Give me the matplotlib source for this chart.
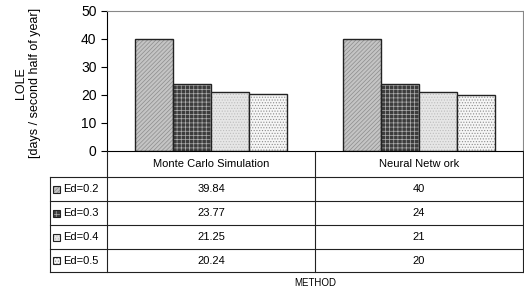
import numpy as np
import matplotlib
matplotlib.use("Agg")
import matplotlib.pyplot as plt
from matplotlib.patches import Rectangle

plt.rcParams['font.family'] = ['Liberation Sans', 'DejaVu Sans']
plt.rcParams['hatch.linewidth'] = 0.5

# data
methods = ["Monte Carlo Simulation", "Neural Netw ork"]
series = ["Ed=0.2", "Ed=0.3", "Ed=0.4", "Ed=0.5"]
lole_mc = [39.84, 23.77, 21.25, 20.24]
lole_nn = [40, 24, 21, 20]
table_txt = [["39.84", "40"], ["23.77", "24"], ["21.25", "21"], ["20.24", "20"]]

# bar styles
faces = ["#c4c4c4", "#3c3c3c", "#e6e6e6", "#f6f6f6"]
hatches = ["////////", "++++", "......", "......"]
hcolors = ["#8c8c8c", "#b0b0b0", "#bdbdbd", "#8c8c8c"]

W, H = 524, 292
fig = plt.figure(figsize=(W / 100, H / 100), dpi=100)

# plot area in pixels: x 107..523, y 11..151
ax = fig.add_axes([107 / W, (H - 151) / H, (523 - 107) / W, (151 - 11) / H])
values = np.array([lole_mc, lole_nn])
x = np.arange(len(methods)) + 0.5
bw = 0.183
for i in range(len(series)):
    ax.bar(x + (i - 1.5) * bw, values[:, i], width=bw, facecolor=faces[i],
           edgecolor=hcolors[i], hatch=hatches[i], linewidth=0)
    ax.bar(x + (i - 1.5) * bw, values[:, i], width=bw, facecolor="none",
           edgecolor="#222222", linewidth=1.0)
ax.set_xlim(0, len(methods))
ax.set_ylim(0, 50)
ax.set_yticks(range(0, 51, 10))
ax.set_xticks([])
ax.tick_params(axis="y", labelsize=10, length=4, width=0.8, direction="out")
ax.spines["left"].set_color("black")
ax.spines["bottom"].set_color("black")
ax.spines["top"].set_color("#888888")
ax.spines["right"].set_color("#888888")

fig.text(21 / W, 1 - 83 / H, "LOLE", rotation=90, ha="center", va="center", fontsize=9)
fig.text(35 / W, 1 - 83 / H, "[days / second half of year]", rotation=90,
         ha="center", va="center", fontsize=9)

# table drawn in pixel coordinates
tx = fig.add_axes([0, 0, 1, 1])
tx.set_xlim(0, W)
tx.set_ylim(H, 0)
tx.axis("off")
lc = "#222222"
rows_y = [151, 177, 201, 225, 249, 272]
col_x = [107, 315, 523]
for yy in rows_y[1:]:
    tx.plot([50 if yy > 177 else 107, 523], [yy, yy], color=lc, lw=0.8)
tx.plot([50, 107], [177, 177], color=lc, lw=0.8)
tx.plot([50, 50], [177, 272], color=lc, lw=0.8)
for xx in col_x:
    tx.plot([xx, xx], [151, 272], color=lc, lw=0.8)

for j, m in enumerate(methods):
    tx.text((col_x[j] + col_x[j + 1]) / 2, 164, m, ha="center", va="center", fontsize=8)
for i, s in enumerate(series):
    yc = (rows_y[i + 1] + rows_y[i + 2]) / 2
    tx.add_patch(Rectangle((53, yc - 3.5), 7, 7, facecolor=faces[i], edgecolor=hcolors[i],
                           hatch=hatches[i], lw=0))
    tx.add_patch(Rectangle((53, yc - 3.5), 7, 7, facecolor="none", edgecolor="#222222", lw=0.8))
    tx.text(63, yc, s, ha="left", va="center", fontsize=8)
    for j in range(len(methods)):
        tx.text((col_x[j] + col_x[j + 1]) / 2, yc, table_txt[i][j], ha="center",
                va="center", fontsize=8)

fig.text(315 / W, 1 - 283 / H, "METHOD", ha="center", va="center", fontsize=7)

fig.savefig("out.png", dpi=100)
